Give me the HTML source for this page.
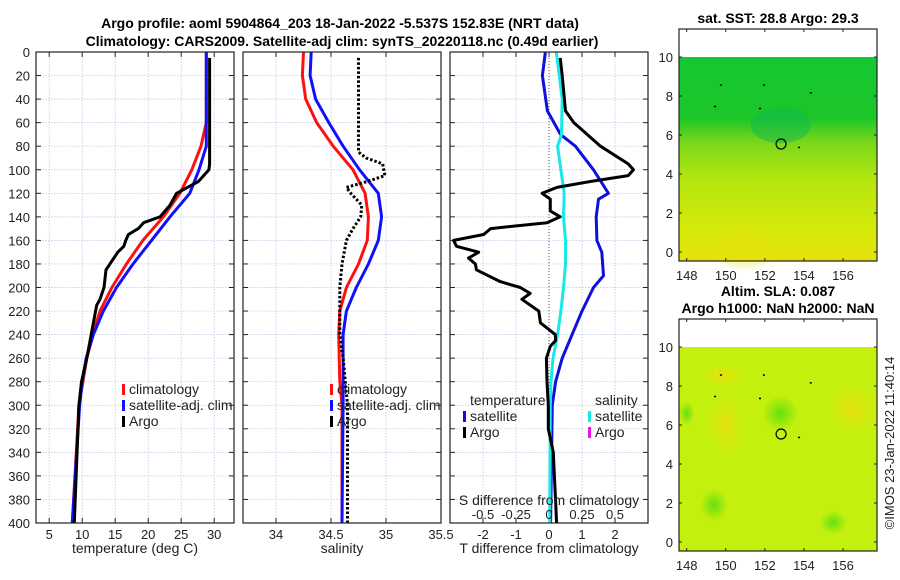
<!DOCTYPE html>
<html><head><meta charset="utf-8"><style>
body{margin:0;background:#fff;}
svg{display:block;font-family:"Liberation Sans","DejaVu Sans",sans-serif;}
</style></head><body>
<svg id="c" width="900" height="580" viewBox="0 0 900 580">
<defs>
<linearGradient id="sstg" x1="0" y1="0" x2="0" y2="1">
<stop offset="0" stop-color="#14c832"/><stop offset="0.3" stop-color="#1cc628"/><stop offset="0.42" stop-color="#7ad81a"/><stop offset="0.6" stop-color="#b4e610"/><stop offset="0.85" stop-color="#d6ea0a"/><stop offset="1" stop-color="#e6e20a"/>
</linearGradient>
<radialGradient id="gb"><stop offset="0" stop-color="#66e010" stop-opacity="1"/><stop offset="1" stop-color="#66e010" stop-opacity="0"/></radialGradient>
<radialGradient id="yb"><stop offset="0" stop-color="#e4e20c" stop-opacity="1"/><stop offset="1" stop-color="#e4e20c" stop-opacity="0"/></radialGradient>
</defs>
<g id="plots"></g>
</svg>
<script>
// ---- data ----
const tempClimDepth=[0,60,80,100,120,140,160,180,200,220,240,260,280,300,340,400];
const tempClim=[28.8,28.8,28,26.6,24.8,22.3,19.2,16.7,14.5,12.7,11.6,10.7,10.1,9.5,9.1,8.5];
const tempSatDepth=[0,80,100,120,140,160,180,200,220,240,260,280,300,400];
const tempSat=[28.8,28.8,27.7,26.3,23.3,20.5,17.7,15.2,13.2,11.7,10.6,10,9.6,8.5];
const tempArgoDepth=[5,95,100,110,120,130,140,145,150,155,160,165,170,180,185,200,210,215,230,260,280,300,400];
const tempArgo=[29.3,29.3,29.2,27.6,24.3,23.3,21.8,19.3,18.5,17,16.6,16.3,15.4,14.2,13.6,13.3,12.7,12.2,11.7,10.7,9.9,9.5,8.8];
const salClimDepth=[0,20,40,60,80,100,120,140,160,180,200,220,240,280,300,400];
const salClim=[34.25,34.24,34.27,34.37,34.52,34.70,34.81,34.84,34.83,34.75,34.64,34.58,34.57,34.58,34.60,34.60];
const salSatDepth=[0,20,40,60,80,100,120,140,160,180,200,220,240,300,400];
const salSat=[34.32,34.31,34.36,34.48,34.61,34.76,34.93,34.96,34.93,34.84,34.73,34.64,34.61,34.61,34.60];
const salArgoDepth=[5,85,90,95,105,110,115,120,130,140,150,160,180,200,240,260,280,300,400];
const salArgo=[34.75,34.75,34.82,34.97,34.99,34.83,34.64,34.68,34.78,34.77,34.70,34.64,34.60,34.58,34.58,34.61,34.63,34.65,34.65];
const dTSatDepth=[0,20,50,70,80,100,120,125,140,160,170,190,200,220,240,260,280,300,400];
const dTSat=[-0.11,-0.2,-0.05,0.35,0.8,1.35,1.8,1.5,1.43,1.45,1.6,1.65,1.35,1.0,0.7,0.4,0.2,0.1,0.05];
const dSSatDepth=[0,40,70,80,100,120,140,160,180,200,220,240,260,280,300,400];
const dSSat=[0.055,0.1,0.095,0.065,0.09,0.115,0.11,0.125,0.125,0.11,0.09,0.065,0.03,0.015,0.01,0.005];
const dTArgoDepth=[5,20,50,60,80,95,100,105,110,115,120,125,135,140,145,150,155,160,165,170,175,180,185,195,200,205,210,220,230,240,245,250,260,280,300,320,340,400];
const dTArgo=[0.34,0.4,0.5,0.75,1.56,2.4,2.56,2.4,1.25,0.24,-0.21,0.04,0.04,0.34,-0.06,-1.77,-1.98,-2.89,-2.8,-2.13,-2.44,-2.23,-2.2,-1.48,-0.87,-0.57,-0.82,-0.31,-0.26,0.19,0.2,0.04,-0.08,-0.06,-0.02,-0.02,0.13,0.23];
const depthTicks=[0,20,40,60,80,100,120,140,160,180,200,220,240,260,280,300,320,340,360,380,400];
const tempTicks=[5,10,15,20,25,30];
const salTicks=[34,34.5,35,35.5];
const dTTicks=[-2,-1,0,1,2];
const dSTicks=[-0.5,-0.25,0,0.25,0.5];
const lonTicks=[148,150,152,154,156];
const latTicks=[0,2,4,6,8,10];

const NS='http://www.w3.org/2000/svg';
const root=document.getElementById('plots');
function mk(tag,at,parent){const e=document.createElementNS(NS,tag);for(const k in at)e.setAttribute(k,at[k]);(parent||root).appendChild(e);return e;}
function txt(s,x,y,at,parent){const e=mk('text',Object.assign({x:x,y:y,'font-size':13,fill:'#222'},at||{}),parent);e.textContent=s;return e;}

const Y0=52,Y1=523;
const yD=d=>Y0+(d/400)*(Y1-Y0);
function lin(d0,d1,r0,r1){return v=>r0+(v-d0)/(d1-d0)*(r1-r0);}

function panel(name,x0,x1,xs,xticks,xlabel,showY){
  const g=mk('g',{});
  
  
  xticks.forEach(t=>{const x=xs(t);mk('line',{x1:x,x2:x,y1:Y0,y2:Y1,stroke:'#b8bfe0','stroke-width':0.7,'stroke-dasharray':'1.5,1.5'},g);
    mk('line',{x1:x,x2:x,y1:Y1,y2:Y1-5,stroke:'#222'},g);mk('line',{x1:x,x2:x,y1:Y0,y2:Y0+5,stroke:'#222'},g);});
  depthTicks.forEach(d=>{const y=yD(d);mk('line',{x1:x0,x2:x1,y1:y,y2:y,stroke:'#b8bfe0','stroke-width':0.7,'stroke-dasharray':'1.5,1.5'},g);
    mk('line',{x1:x0,x2:x0+5,y1:y,y2:y,stroke:'#222'},g);mk('line',{x1:x1-5,x2:x1,y1:y,y2:y,stroke:'#222'},g);
    if(showY){const t=txt(String(d),30,y+5,{'text-anchor':'end'},g);}});
  xticks.forEach(t=>{const e=txt(String(t),xs(t),539,{'text-anchor':'middle'},g);});
  const xl=txt(xlabel,(x0+x1)/2,553,{'text-anchor':'middle','font-size':14},g);
  
  return g;
}
function frame(g,x0,x1){mk('rect',{x:x0,y:Y0,width:x1-x0,height:Y1-Y0,fill:'none',stroke:'#222','stroke-width':1.2},g);}
function series(g,name,depths,vals,xs,color,dash){
  const pts=depths.map((d,i)=>xs(vals[i]).toFixed(1)+','+yD(d).toFixed(1)).join(' ');
  const p=mk('polyline',{points:pts,fill:'none',stroke:color,'stroke-width':3,'stroke-linejoin':'round'},g);
  if(dash)p.setAttribute('stroke-dasharray',dash);
  
  
}
function legend(g,x,y,color,label){
  mk('rect',{x:x,y:y-10,width:3,height:11,fill:color},g);
  const t=txt(label,x+7,y,{'font-size':14},g);
  
  
}

// panel 1
const xT=lin(3,33,36,234);
const g1=panel('temperature-panel',36,234,xT,tempTicks,'temperature (deg C)',true);
series(g1,'temp-climatology-line',tempClimDepth,tempClim,xT,'#ff1010');
series(g1,'temp-satellite-line',tempSatDepth,tempSat,xT,'#1010ff');
series(g1,'temp-argo-line',tempArgoDepth,tempArgo,xT,'#000');
legend(g1,122,394,'#ff1010','climatology');
legend(g1,122,410,'#1010ff','satellite-adj. clim');
legend(g1,122,426,'#000','Argo');
frame(g1,36,234);

// panel 2
const xS=lin(33.7,35.5,243,441);
const g2=panel('salinity-panel',243,441,xS,salTicks,'salinity',false);
series(g2,'sal-climatology-line',salClimDepth,salClim,xS,'#ff1010');
series(g2,'sal-satellite-line',salSatDepth,salSat,xS,'#1010ff');
series(g2,'sal-argo-line',salArgoDepth,salArgo,xS,'#000','2.5,2');
legend(g2,330,394,'#ff1010','climatology');
legend(g2,330,410,'#1010ff','satellite-adj. clim');
legend(g2,330,426,'#000','Argo');
frame(g2,243,441);

// panel 3
const xDT=lin(-3,3,450,648);
const xDS=lin(-0.75,0.75,450,648);
const g3=panel('difference-panel',450,648,xDT,dTTicks,'T difference from climatology',false);
mk('line',{x1:xDT(0),x2:xDT(0),y1:Y0,y2:Y1,stroke:'#555','stroke-width':1,'stroke-dasharray':'1,2'},g3);
series(g3,'dT-satellite-line',dTSatDepth,dTSat,xDT,'#1010dd');
series(g3,'dS-satellite-line',dSSatDepth,dSSat,xDS,'#18e8e8');
series(g3,'dT-argo-line',dTArgoDepth,dTArgo,xDT,'#000');
const tt=txt('temperature',470,405,{'font-size':14},g3);
const st=txt('salinity',595,405,{'font-size':14},g3);
legend(g3,463,421,'#1010dd','satellite');
legend(g3,463,437,'#000','Argo');
legend(g3,588,421,'#18e8e8','satellite');
legend(g3,588,437,'#ee10ee','Argo');
const sl=txt('S difference from climatology',549,505,{'text-anchor':'middle','font-size':14},g3);

dSTicks.forEach(t=>{const e=txt(String(t),xDS(t),519,{'text-anchor':'middle'},g3);});
frame(g3,450,648);

// titles
const t1=txt('Argo profile: aoml 5904864_203 18-Jan-2022 -5.537S 152.83E (NRT data)',340,28,{'text-anchor':'middle','font-weight':'bold','font-size':14,fill:'#000'});

const t2=txt('Climatology: CARS2009. Satellite-adj clim: synTS_20220118.nc (0.49d earlier)',342,46,{'text-anchor':'middle','font-weight':'bold','font-size':14,fill:'#000'});


// maps
function map(name,top,kind){
  const bx0=679,bx1=877,by0=top,by1=top+232;
  const g=mk('g',{});
  
  
  const fy=top+28;
  const lat=lin(0,10,top+223,fy);
  const lon=lin(148,156,686.7,843);
  if(kind==='sst'){
    mk('rect',{x:bx0,y:fy,width:bx1-bx0,height:by1-fy,fill:'url(#sstg)'},g);
    mk('ellipse',{cx:lon(152.8),cy:lat(6.5),rx:30,ry:18,fill:'#10b850',opacity:0.5},g);
    mk('ellipse',{cx:lon(151),cy:lat(0.3),rx:40,ry:25,fill:'url(#yb)'},g);
  }else{
    mk('rect',{x:bx0,y:fy,width:bx1-bx0,height:by1-fy,fill:'#c4f00e'},g);
    [[150,6,18,30],[156.5,6.8,25,25],[149.8,8.5,20,12]].forEach(b=>mk('ellipse',{cx:lon(b[0]),cy:lat(b[1]),rx:b[2],ry:b[3],fill:'url(#yb)'},g));
    [[152.8,6.6,18,18],[149.4,1.9,14,16],[148,6.6,8,12],[155.5,1,14,12]].forEach(b=>mk('ellipse',{cx:lon(b[0]),cy:lat(b[1]),rx:b[2],ry:b[3],fill:'url(#gb)'},g));
  }
  mk('circle',{cx:lon(152.83),cy:lat(5.537),r:5,fill:'none',stroke:'#000','stroke-width':1.2},g);
  [[151.7,7.4],[154.3,8.2],[153.7,5.4],[149.4,7.5],[149.7,8.6],[151.9,8.6]].forEach(p=>mk('rect',{x:lon(p[0]),y:lat(p[1]),width:2,height:1.5,fill:'#000'},g));
  mk('rect',{x:bx0,y:by0,width:bx1-bx0,height:by1-by0,fill:'none',stroke:'#222','stroke-width':1.2},g);
  latTicks.forEach(v=>{const y=lat(v);mk('line',{x1:bx0,x2:bx0+3,y1:y,y2:y,stroke:'#222'},g);mk('line',{x1:bx1-3,x2:bx1,y1:y,y2:y,stroke:'#222'},g);
    const e=txt(String(v),673,y+5,{'text-anchor':'end'},g);});
  lonTicks.forEach(v=>{const x=lon(v);mk('line',{x1:x,x2:x,y1:by1,y2:by1-3,stroke:'#222'},g);mk('line',{x1:x,x2:x,y1:by0,y2:by0+3,stroke:'#222'},g);
    const e=txt(String(v),x,by1+19,{'text-anchor':'middle'},g);});
}
map('sst-map',29,'sst');
map('sla-map',319,'sla');
const m1=txt('sat. SST: 28.8 Argo: 29.3',778,23,{'text-anchor':'middle','font-weight':'bold','font-size':14,fill:'#000'});

const m2=txt('Altim. SLA: 0.087',778,296,{'text-anchor':'middle','font-weight':'bold','font-size':14,fill:'#000'});

const m3=txt('Argo h1000: NaN h2000: NaN',778,313,{'text-anchor':'middle','font-weight':'bold','font-size':14,fill:'#000'});

const cr=txt('©IMOS 23-Jan-2022 11:40:14',0,0,{'text-anchor':'middle','font-size':13,transform:'translate(894,443) rotate(-90)'});

</script>
</body></html>
